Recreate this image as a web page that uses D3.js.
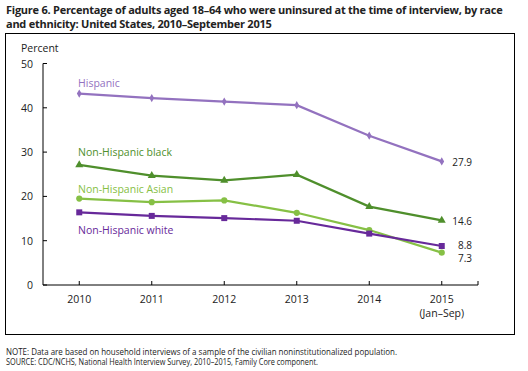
<!DOCTYPE html>
<html>
<head>
<meta charset="utf-8">
<script src="https://cdn.jsdelivr.net/npm/d3@7"></script>
<style>
body { margin: 0; background: #fff; }
text { font-family: "Open Sans", "Noto Sans", sans-serif; }
</style>
</head>
<body>
<script>
// chart data
const years = ["2010", "2011", "2012", "2013", "2014", "2015"];
const hispanic = [43.2, 42.2, 41.4, 40.6, 33.7, 27.9];
const black = [27.1, 24.7, 23.6, 24.9, 17.7, 14.6];
const asian = [19.5, 18.7, 19.1, 16.3, 12.4, 7.3];
const white = [16.4, 15.6, 15.1, 14.5, 11.6, 8.8];
const yTicks = [0, 10, 20, 30, 40, 50];
const endLabels = ["27.9", "14.6", "8.8", "7.3"];

const W = 528, H = 371;
const svg = d3.select("body").append("svg").attr("width", W).attr("height", H);

const title = svg.append("text").attr("x", 6).attr("font-size", 11).attr("font-weight", "bold")
  .attr("fill", "#222").attr("letter-spacing", -0.25);
title.append("tspan").attr("x", 6).attr("y", 14)
  .text("Figure 6. Percentage of adults aged 18\u201364 who were uninsured at the time of interview, by race");
title.append("tspan").attr("x", 6).attr("y", 28)
  .text("and ethnicity: United States, 2010\u2013September 2015");

// frame
svg.append("rect").attr("x", 5.5).attr("y", 33.5).attr("width", 509).attr("height", 301)
  .attr("fill", "none").attr("stroke", "#000").attr("stroke-width", 1);

const x = d3.scalePoint().domain(years).range([43, 478]).padding(0.5);
const y = d3.scaleLinear().domain([0, 50]).range([285, 63.5]);

// axes
const g = svg.append("g");
g.append("line").attr("x1", 43).attr("x2", 43).attr("y1", y(50)).attr("y2", y(0)).attr("stroke", "#000");
g.append("line").attr("x1", 43).attr("x2", 478).attr("y1", y(0)).attr("y2", y(0)).attr("stroke", "#000");
g.selectAll(".yt").data(yTicks).enter().append("line")
  .attr("x1", 43).attr("x2", 47).attr("y1", d => y(d)).attr("y2", d => y(d)).attr("stroke", "#000");
g.selectAll(".yl").data(yTicks).enter().append("text")
  .attr("x", 33).attr("y", d => y(d) + 4).attr("text-anchor", "end")
  .attr("font-size", 10.5).attr("fill", "#222").text(d => d);
g.selectAll(".xt").data(years).enter().append("line")
  .attr("x1", d => x(d)).attr("x2", d => x(d)).attr("y1", y(0)).attr("y2", y(0) - 4).attr("stroke", "#000");
g.append("line").attr("x1", 478).attr("x2", 478).attr("y1", y(0)).attr("y2", y(0) - 4).attr("stroke", "#000");
g.selectAll(".xl").data(years).enter().append("text")
  .attr("x", d => x(d)).attr("y", 303).attr("text-anchor", "middle")
  .attr("font-size", 10.5).attr("fill", "#222").text(d => d);
g.append("text").attr("x", x("2015")).attr("y", 317).attr("text-anchor", "middle")
  .attr("font-size", 10.5).attr("fill", "#222").text("(Jan\u2013Sep)");
g.append("text").attr("x", 21).attr("y", 52).attr("font-size", 10.5).attr("fill", "#222").text("Percent");

const series = [
  {name: "Hispanic", vals: hispanic, color: "#9372bf", sym: d3.symbolDiamond, size: 20, lx: 78, ly: 87},
  {name: "Non-Hispanic black", vals: black, color: "#4f8f2c", sym: d3.symbolTriangle, size: 28, lx: 78, ly: 156},
  {name: "Non-Hispanic Asian", vals: asian, color: "#86c045", sym: d3.symbolCircle, size: 30, lx: 78, ly: 193},
  {name: "Non-Hispanic white", vals: white, color: "#67299a", sym: d3.symbolSquare, size: 36, lx: 78, ly: 234}
];

const line = d3.line().x((d, i) => x(years[i])).y(d => y(d));
series.forEach(s => {
  svg.append("path").datum(s.vals).attr("d", line)
    .attr("fill", "none").attr("stroke", s.color).attr("stroke-width", 2.2);
  svg.selectAll(null).data(s.vals).enter().append("path")
    .attr("d", d3.symbol().type(s.sym).size(s.size))
    .attr("transform", (d, i) => `translate(${x(years[i])},${y(d)})`)
    .attr("fill", s.color);
  svg.append("text").attr("x", s.lx).attr("y", s.ly).attr("font-size", 10.5)
    .attr("fill", s.color).text(s.name);
});

// end value labels
const endY = [hispanic[5], black[5], white[5], asian[5]];
const endOff = [1, 1, -1.5, 5];
svg.selectAll(".ev").data(endLabels).enter().append("text")
  .attr("x", 472).attr("y", (d, i) => y(endY[i]) + 4 + endOff[i]).attr("text-anchor", "end")
  .attr("font-size", 10).attr("fill", "#222").text(d => d);

// notes
svg.append("text").attr("x", 6).attr("y", 355).attr("font-size", 8.2).attr("fill", "#222")
  .attr("textLength", 391).attr("lengthAdjust", "spacingAndGlyphs")
  .text("NOTE: Data are based on household interviews of a sample of the civilian noninstitutionalized population.");
svg.append("text").attr("x", 6).attr("y", 365).attr("font-size", 8.2).attr("fill", "#222")
  .attr("textLength", 312).attr("lengthAdjust", "spacingAndGlyphs")
  .text("SOURCE: CDC/NCHS, National Health Interview Survey, 2010\u20132015, Family Core component.");
</script>
</body>
</html>
